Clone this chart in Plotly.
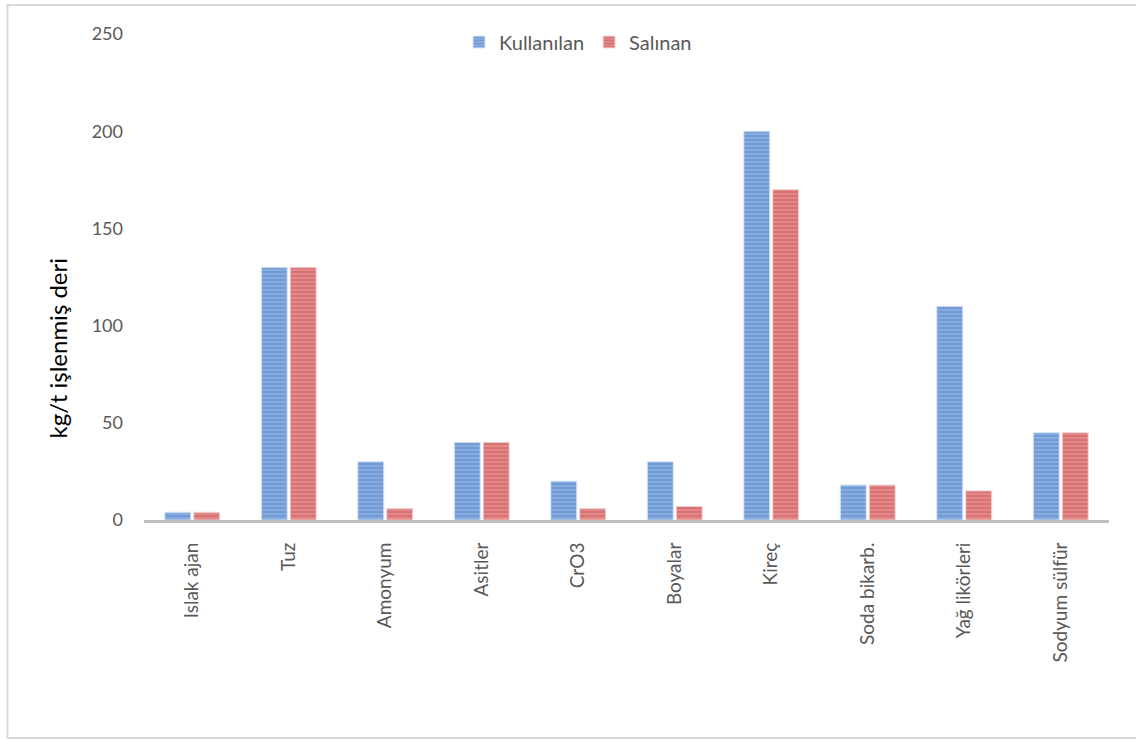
import plotly.graph_objects as go

# Kimyasal madde kullanımı ve salınımı (kg/t işlenmiş deri)
categories = ["Islak ajan", "Tuz", "Amonyum", "Asitler", "CrO3", "Boyalar",
              "Kireç", "Soda bikarb.", "Yağ likörleri", "Sodyum sülfür"]
kullanilan = [4, 130, 30, 40, 20, 30, 200, 18, 110, 45]
salinan = [4, 130, 6, 40, 6, 7, 170, 18, 15, 45]
y_ticks = [0, 50, 100, 150, 200, 250]

FONT = "Lato, 'Open Sans', sans-serif"
W, H = 1136, 740
L, R, T, B = 144, 27, 34, 220
pw, ph = W - L - R, H - T - B

fig = go.Figure()
fig.add_trace(go.Bar(
    name="Kullanılan", x=categories, y=kullanilan,
    marker=dict(color="#7FA6DE",
                line=dict(color="#DCE6F4", width=1),
                pattern=dict(shape="-", fgcolor="#4B79C3", bgcolor="#86ACE0",
                             size=4, solidity=0.35)),
))
fig.add_trace(go.Bar(
    name="Salınan", x=categories, y=salinan,
    marker=dict(color="#E08080",
                line=dict(color="#F3DADA", width=1),
                pattern=dict(shape="-", fgcolor="#C44848", bgcolor="#E38888",
                             size=4, solidity=0.35)),
))

# Y ekseni başlığı
fig.add_annotation(
    text="kg/t işlenmiş deri", xref="paper", yref="paper",
    x=(40 - L) / pw, y=(H - B - 348) / ph, textangle=-90,
    showarrow=False, font=dict(family=FONT, size=24, color="#000000"),
)

# Dış çerçeve
fig.add_shape(type="rect", xref="paper", yref="paper",
              x0=(7.5 - L) / pw, x1=(1140 - L) / pw,
              y0=(H - B - 738) / ph, y1=(H - B - 5) / ph,
              line=dict(color="#D9D9D9", width=2), layer="below")

fig.update_layout(
    width=W, height=H,
    margin=dict(l=L, r=R, t=T, b=B),
    paper_bgcolor="white", plot_bgcolor="white",
    barmode="group", bargap=0.4, bargroupgap=0.1,
    font=dict(family=FONT, size=16, color="#595959"),
    legend=dict(orientation="h", x=(578 - L) / pw, xanchor="center",
                y=(H - B - 42) / ph, yanchor="middle",
                font=dict(family=FONT, size=20, color="#595959"),
                itemwidth=30, traceorder="normal"),
    showlegend=True,
)
fig.update_xaxes(
    tickangle=-90, showgrid=False, showline=True, linecolor="#BFBFBF",
    linewidth=3, ticks="", ticklabelstandoff=12,
    tickfont=dict(family=FONT, size=19, color="#595959"),
)
fig.update_yaxes(
    range=[0, 250], tickvals=y_ticks, showgrid=False, zeroline=False,
    showline=False, ticks="", ticklabelstandoff=20,
    tickfont=dict(family=FONT, size=18, color="#595959"),
)

fig.write_html("out.html")
